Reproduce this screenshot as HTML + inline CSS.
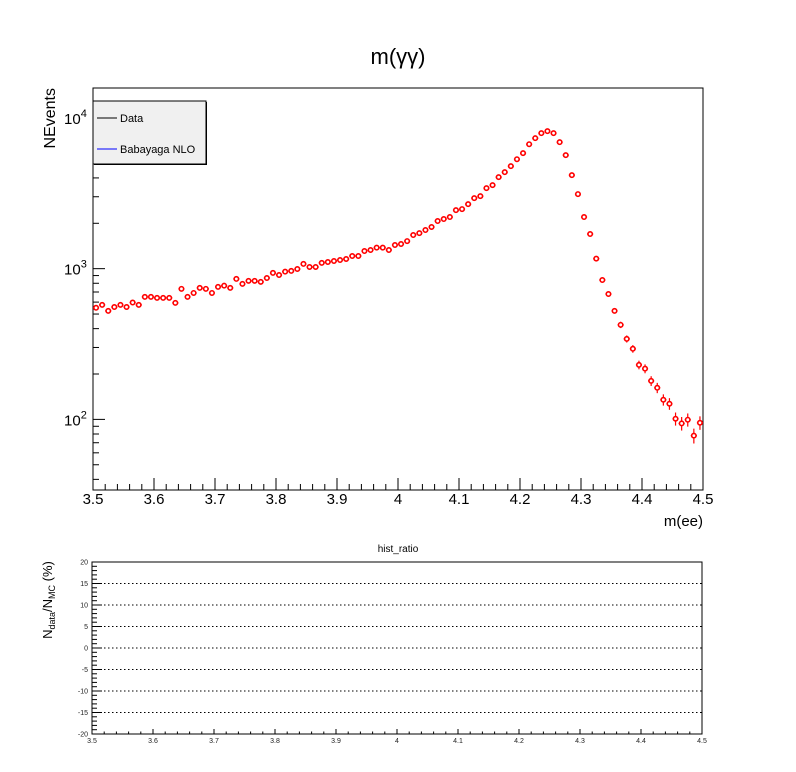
<!DOCTYPE html>
<html><head><meta charset="utf-8"><style>
body{margin:0;background:#fff;}
svg{display:block;font-family:"Liberation Sans",Arial,sans-serif;}
</style></head><body>
<svg id="c" width="796" height="772" viewBox="0 0 796 772">
<rect width="796" height="772" fill="#fff"/>
<text x="398" y="64" font-size="22" text-anchor="middle">m(γγ)</text>
<g id="main"></g>
<g id="ratio"></g>
</svg>
<script>
const binLow = 3.5, binWidth = 0.01;
const counts = [550,575,525,557,575,557,596,575,650,650,640,640,640,593,735,650,690,745,735,690,757,771,745,855,793,830,830,817,867,937,908,955,966,995,1075,1026,1026,1092,1107,1124,1142,1159,1214,1214,1309,1330,1378,1378,1330,1436,1458,1524,1671,1722,1804,1890,2070,2134,2200,2447,2485,2680,2938,3029,3422,3583,4049,4367,4790,5325,5840,6695,7340,7925,8170,7925,6905,5665,4175,3125,2200,1698,1165,841,679,525,424,342,294,230,217,180,162,135,127,101,94,99.5,78,95];
const xTicks = [3.5,3.6,3.7,3.8,3.9,4.0,4.1,4.2,4.3,4.4,4.5];
const xTickLabels = ["3.5","3.6","3.7","3.8","3.9","4","4.1","4.2","4.3","4.4","4.5"];
const ratioTicks = [-20,-15,-10,-5,0,5,10,15,20];
const NS="http://www.w3.org/2000/svg";
function mk(p,t,a){const e=document.createElementNS(NS,t);for(const k in a)e.setAttribute(k,a[k]);p.appendChild(e);return e;}
const L=93,R=703,T=88,B=490;
const yMin=Math.log10(34), yMax=Math.log10(15800);
const X=v=>L+(v-3.5)/(1.0)*(R-L);
const Y=v=>B-(Math.log10(v)-yMin)/(yMax-yMin)*(B-T);
const g=document.getElementById('main');
let fr=mk(g,'rect',{x:L,y:T,width:R-L,height:B-T,fill:'none',stroke:'#000','stroke-width':1});


for(let i=0;i<=50;i++){const v=3.5+i*0.02;const x=X(v);const maj=(i%5===0);
 mk(g,'line',{x1:x,x2:x,y1:B,y2:B-(maj?12:6),stroke:'#000'});}
xTicks.forEach((v,i)=>{const t=mk(g,'text',{x:X(v),y:504,'font-size':15,'text-anchor':'middle'});t.textContent=xTickLabels[i];
 
 });
let xt=mk(g,'text',{x:703,y:526,'font-size':15,'text-anchor':'end'});xt.textContent='m(ee)';


for(let d=1;d<=4;d++){for(let m=1;m<=9;m++){const v=m*Math.pow(10,d);if(v<34||v>15800)continue;const y=Y(v);
 mk(g,'line',{x1:L,x2:L+(m===1?12:6),y1:y,y2:y,stroke:'#000'});
 if(m===1){const t=mk(g,'text',{x:64,y:y+6,'font-size':15});const b=mk(t,'tspan',{});b.textContent='10';const s=mk(t,'tspan',{dy:-7,'font-size':11});s.textContent=String(d);
  
  }}}
let yt=mk(g,'text',{x:0,y:0,'font-size':16,'text-anchor':'end',transform:'translate(55,88) rotate(-90)'});yt.textContent='NEvents';


counts.forEach((c,i)=>{const xc=binLow+(i+0.5)*binWidth;const x=X(xc),y=Y(c);const e=Math.sqrt(c);
 const pg=mk(g,'g',{stroke:'#f00','stroke-width':1.2,fill:'none'});
 
 
 const yt1=Y(c+e),yb=Y(Math.max(c-e,1));
 if(y-yt1>3)mk(pg,'line',{x1:x,x2:x,y1:yt1,y2:y-2.5});
 if(yb-y>3)mk(pg,'line',{x1:x,x2:x,y1:y+2.5,y2:yb});
 mk(pg,'line',{x1:X(xc-binWidth/2),x2:x-2.5,y1:y,y2:y});
 mk(pg,'line',{x1:x+2.5,x2:X(xc+binWidth/2),y1:y,y2:y});
 mk(pg,'circle',{cx:x,cy:y,r:2.2,'stroke-width':1.6});});
const lg=mk(g,'g',{});


mk(lg,'rect',{x:94,y:102,width:113,height:63,fill:'#000'});
mk(lg,'rect',{x:93,y:101,width:113,height:63,fill:'#f0f0f0',stroke:'#000'});
const le1=mk(lg,'g',{});


mk(le1,'line',{x1:97,x2:117,y1:118,y2:118,stroke:'#000'});
let t1=mk(le1,'text',{x:120,y:122,'font-size':11});t1.textContent='Data';
const le2=mk(lg,'g',{});


mk(le2,'line',{x1:97,x2:117,y1:149,y2:149,stroke:'#00f'});
let t2=mk(le2,'text',{x:120,y:153,'font-size':11});t2.textContent='Babayaga NLO';
const rg=document.getElementById('ratio');
const rL=92,rR=702,rT=562,rB=734;
const RY=v=>rB-(v+20)/40*(rB-rT);
const RX=v=>rL+(v-3.5)*(rR-rL);
let ht=mk(rg,'text',{x:398,y:552,'font-size':10,'text-anchor':'middle'});ht.textContent='hist_ratio';


ratioTicks.forEach(v=>{const y=RY(v);
 if(v>-20&&v<20){const gl=mk(rg,'line',{x1:rL,x2:rR,y1:y,y2:y,stroke:'#000','stroke-dasharray':'1.5,2.5'});
  
  }
 const t=mk(rg,'text',{x:88,y:y+2.5,'font-size':7,'text-anchor':'end',fill:'#222'});t.textContent=String(v);
 
 });
for(let i=0;i<=40;i++){const y=RY(-20+i);mk(rg,'line',{x1:rL,x2:rL+(i%5===0?10:5),y1:y,y2:y,stroke:'#000'});}
for(let i=0;i<=50;i++){const x=RX(3.5+i*0.02);mk(rg,'line',{x1:x,x2:x,y1:rB,y2:rB-(i%5===0?5:2.5),stroke:'#000'});}
xTicks.forEach((v,i)=>{const t=mk(rg,'text',{x:RX(v),y:743,'font-size':7,'text-anchor':'middle',fill:'#222'});t.textContent=xTickLabels[i];
 
 });
mk(rg,'rect',{x:rL,y:rT,width:rR-rL,height:rB-rT,fill:'none',stroke:'#000'});
let ryt=mk(rg,'text',{x:0,y:0,'font-size':13,'text-anchor':'middle',transform:'translate(52,600) rotate(-90)'});
ryt.innerHTML='N<tspan dy="3" font-size="9">data</tspan><tspan dy="-3">/N</tspan><tspan dy="3" font-size="9">MC</tspan><tspan dy="-3"> (%)</tspan>';


</script>
</body></html>
